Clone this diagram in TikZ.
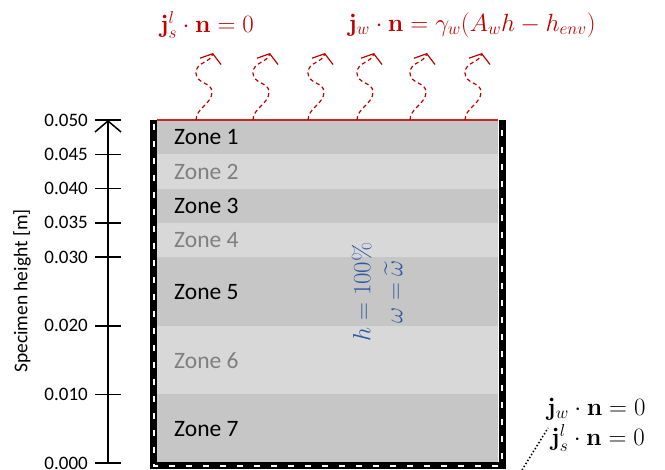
\documentclass[tikz,border=0pt]{standalone}
\usepackage[no-math]{fontspec}
\setmainfont{Carlito}
\usepackage{amsmath}
\usetikzlibrary{arrows.meta}

\definecolor{zonedark}{RGB}{198,198,198}
\definecolor{zonelight}{RGB}{216,216,216}
\definecolor{zonegrey}{RGB}{127,127,127}
\definecolor{fluxred}{RGB}{192,0,0}
\definecolor{edgered}{RGB}{200,40,40}
\definecolor{stateblue}{RGB}{46,88,160}

\begin{document}
\begin{tikzpicture}[
  x=1pt, y=-1pt,
  zonelbl/.style={anchor=west, inner sep=0pt, font=\fontsize{23.5}{27}\selectfont},
  ticklbl/.style={anchor=east, inner sep=0pt, font=\fontsize{19}{22}\selectfont},
  eqn/.style={inner sep=0pt, font=\fontsize{24}{28}\selectfont},
  flux/.style={fluxred, line width=1.2pt, dash pattern=on 4pt off 3pt,
    -{Straight Barb[length=8pt, width=22pt, line width=1.2pt]}},
  wall/.style={line width=7pt, black},
  walldash/.style={line width=2pt, white, dash pattern=on 6pt off 11pt},
  axisline/.style={line width=1.5pt, -{Straight Barb[length=11pt, width=26pt, line width=1.5pt]}},
  tick/.style={line width=1.5pt},
  wave/.pic={\draw[flux] (0,0) .. controls (0,-12) and (16,-16) .. (16,-28)
    .. controls (16,-38) and (0,-36) .. (0,-47) .. controls (0,-58) and (14,-57) .. (17,-67);}
]
\useasboundingbox (0,0) rectangle (665,470);

% --- zones ---
\fill[zonedark]  (157,120)   rectangle (498,154.3);
\fill[zonelight] (157,154.3) rectangle (498,188.6);
\fill[zonedark]  (157,188.6) rectangle (498,222.9);
\fill[zonelight] (157,222.9) rectangle (498,257.2);
\fill[zonedark]  (157,257.2) rectangle (498,325.8);
\fill[zonelight] (157,325.8) rectangle (498,394.4);
\fill[zonedark]  (157,394.4) rectangle (498,466);

\node[zonelbl] (z1) at (174,137)   {Zone 1};
\node[zonelbl, zonegrey] (z2) at (174,171.5) {Zone 2};
\node[zonelbl] (z3) at (174,206)   {Zone 3};
\node[zonelbl, zonegrey] (z4) at (174,240.5) {Zone 4};
\node[zonelbl] (z5) at (174,292)   {Zone 5};
\node[zonelbl, zonegrey] (z6) at (174,360.5) {Zone 6};
\node[zonelbl] (z7) at (174,429)   {Zone 7};

% --- initial state ---
\node[eqn, stateblue, rotate=90, align=center, font=\fontsize{25}{32}\selectfont] (init) at (377,292)
  {$h = 100\%$\\$\omega = \widetilde{\omega}$};

% --- sealed walls and open top ---
\draw[wall] (153.5,120) -- (153.5,466) -- (502,466) -- (502,120);
\draw[walldash] (153.5,124) -- (153.5,466) -- (502,466) -- (502,124);
\draw[edgered, line width=2pt] (157,120) -- (498,120);

% --- moisture flux at the top ---
\foreach \xs in {196,253,308,357,410,465}
  \pic at (\xs,120) {wave};
\node[eqn, fluxred] (topsalt) at (207,25) {$\mathbf{j}_s^{l}\cdot\mathbf{n} = 0$};
\node[eqn, fluxred] (topwater) at (472,25) {$\mathbf{j}_w\cdot\mathbf{n} = \gamma_w(A_w h - h_{env})$};

% --- height axis ---
\coordinate (axbot) at (108,463);
\coordinate (axtop) at (108,120);
\draw[axisline] (axbot) -- (axtop);
\foreach \v/\y in {0.050/120, 0.045/154.3, 0.040/188.6, 0.035/222.9, 0.030/257.2, 0.020/325.8, 0.010/394.4, 0.000/463} {
  \draw[tick] (95,\y) -- (121,\y);
  \node[ticklbl] at (88,\y) {\v};
}
\node[rotate=90, font=\fontsize{19.5}{23}\selectfont] (axtitle) at (22,291) {Specimen height [m]};

% --- sealed boundary conditions ---
\node[eqn, anchor=west] (sidewater) at (547,409) {$\mathbf{j}_w\cdot\mathbf{n} = 0$};
\node[eqn, anchor=west] (sidesalt) at (551,438) {$\mathbf{j}_s^{l}\cdot\mathbf{n} = 0$};
\coordinate (wallpt) at (522,470);
\draw[line width=1.5pt, dash pattern=on 1.5pt off 2pt] (wallpt) -- (548,428);
\end{tikzpicture}
\end{document}
